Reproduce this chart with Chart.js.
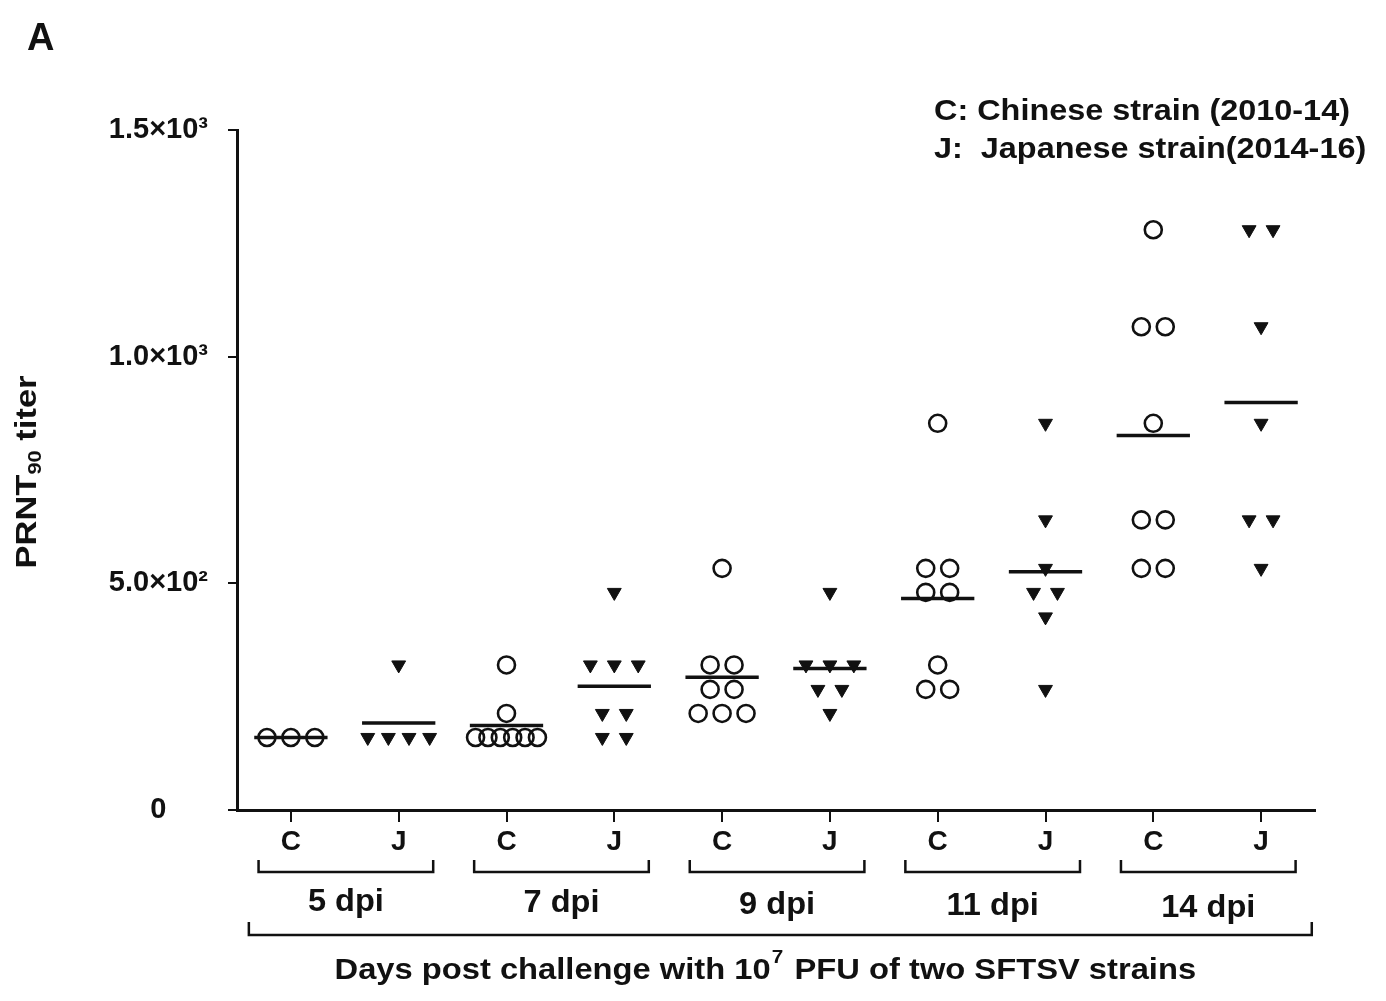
<!DOCTYPE html>
<html>
<head>
<meta charset="utf-8">
<script src="https://cdn.jsdelivr.net/npm/chart.js@4.4.0/dist/chart.umd.min.js"></script>
<style>
  body { margin: 0; background: #fff; }
  #wrap { width: 1386px; height: 1001px; position: relative; }
</style>
</head>
<body>
<div id="wrap"><canvas id="myChart"></canvas></div>
<script>
let groups = ['5 dpi', '7 dpi', '9 dpi', '11 dpi', '14 dpi'];
let strains = ['C', 'J'];
let yTicks = [0, 500, 1000, 1500];
let yTickLabels = ['0', '5.0×10²', '1.0×10³', '1.5×10³'];

// PRNT90 titers per mouse
let chinese5 = [160, 160, 160];
let japanese5 = [320, 160, 160, 160, 160];
let chinese7 = [320, 213, 160, 160, 160, 160, 160, 160];
let japanese7 = [480, 320, 320, 320, 213, 213, 160, 160];
let chinese9 = [533, 320, 320, 266, 266, 213, 213, 213];
let japanese9 = [480, 320, 320, 320, 266, 266, 213];
let chinese11 = [853, 533, 533, 480, 480, 320, 266, 266];
let japanese11 = [853, 640, 533, 480, 480, 426, 266];
let chinese14 = [1280, 1066, 1066, 853, 640, 640, 533, 533];
let japanese14 = [1280, 1280, 1066, 853, 640, 640, 533];

let chineseData = [chinese5, chinese7, chinese9, chinese11, chinese14];
let japaneseData = [japanese5, japanese7, japanese9, japanese11, japanese14];

const FONT = "'Liberation Sans', Arial, sans-serif";
const INK = '#111';

// spread equal values side by side like a column scatter
function spreadPoints(values, center) {
  let counts = {};
  values.forEach(v => counts[v] = (counts[v] || 0) + 1);
  let seen = {};
  return values.map(v => {
    let n = counts[v];
    let k = seen[v] || 0;
    seen[v] = k + 1;
    let step = n > 1 ? Math.min(0.222, 0.574 / (n - 1)) : 0;
    return { x: center + (k - (n - 1) / 2) * step, y: v };
  });
}

function mean(arr) {
  return arr.reduce((a, b) => a + b, 0) / arr.length;
}

let circlePts = [];
let trianglePts = [];
let datasets = [];

for (let g = 0; g < groups.length; g++) {
  circlePts = circlePts.concat(spreadPoints(chineseData[g], g * 2 + 0.5));
  trianglePts = trianglePts.concat(spreadPoints(japaneseData[g], g * 2 + 1.5));
  [chineseData[g], japaneseData[g]].forEach((vals, s) => {
    let c = g * 2 + 0.5 + s;
    let m = mean(vals);
    datasets.push({
      data: [{ x: c - 0.34, y: m }, { x: c + 0.34, y: m }],
      showLine: true,
      borderColor: INK,
      borderWidth: 3.5,
      pointRadius: 0
    });
  });
}

datasets.push({
  label: 'C',
  data: circlePts,
  pointStyle: 'circle',
  pointRadius: 8.5,
  pointBorderWidth: 2.6,
  pointBorderColor: INK,
  pointBackgroundColor: 'rgba(0,0,0,0)'
});
datasets.push({
  label: 'J',
  data: trianglePts,
  pointStyle: 'triangle',
  pointRotation: 180,
  pointRadius: 8,
  pointBorderWidth: 1,
  pointBorderColor: INK,
  pointBackgroundColor: INK
});

// the figure's lettering is a little wide, so stretch it sideways
function wideText(c, text, x, y, sx) {
  c.save();
  c.translate(x, y);
  c.scale(sx, 1);
  c.fillText(text, 0, 0);
  c.restore();
}

const extras = {
  id: 'extras',
  afterDraw(chart) {
    let c = chart.ctx;
    let xs = chart.scales.x;
    let area = chart.chartArea;
    c.save();
    c.fillStyle = INK;
    c.strokeStyle = INK;
    c.textBaseline = 'middle';

    // panel letter
    c.font = 'bold 38px ' + FONT;
    c.textAlign = 'left';
    c.fillText('A', 27, 40);

    // strain key
    c.font = 'bold 30px ' + FONT;
    wideText(c, 'C: Chinese strain (2010-14)', 934, 112, 1.08);
    wideText(c, 'J:  Japanese strain(2014-16)', 934, 150, 1.08);

    // group brackets
    c.lineWidth = 2.5;
    let by = area.bottom + 62;
    for (let g = 0; g < groups.length; g++) {
      let x1 = xs.getPixelForValue(g * 2 + 0.2);
      let x2 = xs.getPixelForValue(g * 2 + 1.82);
      c.beginPath();
      c.moveTo(x1, by - 12); c.lineTo(x1, by); c.lineTo(x2, by); c.lineTo(x2, by - 12);
      c.stroke();
      c.font = 'bold 31px ' + FONT;
      c.textAlign = 'center';
      wideText(c, groups[g], (x1 + x2) / 2, by + 30 + g * 1.5, 1.05);
    }

    // outer bracket
    let oy = area.bottom + 125;
    let ox1 = xs.getPixelForValue(0.11);
    let ox2 = xs.getPixelForValue(9.97);
    c.beginPath();
    c.moveTo(ox1, oy - 13); c.lineTo(ox1, oy); c.lineTo(ox2, oy); c.lineTo(ox2, oy - 13);
    c.stroke();

    // x title with superscript 7, sits a bit left of the bracket centre
    c.textAlign = 'left';
    let sx = 1.09;
    let part1 = 'Days post challenge with 10';
    let part3 = ' PFU of two SFTSV strains';
    c.font = 'bold 30px ' + FONT;
    let w1 = c.measureText(part1).width;
    let w3 = c.measureText(part3).width;
    c.font = 'bold 19px ' + FONT;
    let w2 = c.measureText('7').width + 3;
    let tx = (ox1 + ox2) / 2 - 15 - (w1 + w2 + w3) * sx / 2;
    let ty = area.bottom + 161;
    c.font = 'bold 30px ' + FONT;
    wideText(c, part1, tx, ty, sx);
    c.font = 'bold 19px ' + FONT;
    wideText(c, '7', tx + (w1 + 1) * sx, ty - 13, sx);
    c.font = 'bold 30px ' + FONT;
    wideText(c, part3, tx + (w1 + w2) * sx, ty, sx);

    // y title with subscript 90
    c.translate(28, (area.top + area.bottom) / 2 + 2);
    c.rotate(-Math.PI / 2);
    c.scale(1.15, 1);
    c.font = 'bold 30px ' + FONT;
    let p1 = c.measureText('PRNT').width;
    let p3 = c.measureText(' titer').width;
    c.font = 'bold 19px ' + FONT;
    let p2 = c.measureText('90').width;
    let px = -(p1 + p2 + p3) / 2;
    c.font = 'bold 30px ' + FONT;
    c.fillText('PRNT', px, 0);
    c.font = 'bold 19px ' + FONT;
    c.fillText('90', px + p1, 8);
    c.font = 'bold 30px ' + FONT;
    c.fillText(' titer', px + p1 + p2, 0);
    c.restore();
  }
};

let ctx = document.getElementById('myChart').getContext('2d');
const myChart = new Chart(ctx, {
  type: 'scatter',
  data: { datasets: datasets },
  options: {
    responsive: true,
    maintainAspectRatio: false,
    animation: false,
    layout: { padding: { top: 130, right: 71, left: 0, bottom: 0 } },
    plugins: {
      legend: { display: false },
      tooltip: { enabled: false }
    },
    scales: {
      x: {
        type: 'linear',
        min: 0,
        max: 10,
        afterBuildTicks: s => { s.ticks = [0.5, 1.5, 2.5, 3.5, 4.5, 5.5, 6.5, 7.5, 8.5, 9.5].map(v => ({ value: v })); },
        afterFit: s => { s.height = 191; },
        ticks: {
          callback: v => strains[Math.floor(v) % 2],
          autoSkip: false,
          maxRotation: 0,
          padding: 3,
          color: INK,
          font: { family: FONT, size: 28, weight: 'bold' }
        },
        grid: { drawOnChartArea: false, tickLength: 12, color: INK, lineWidth: 2 },
        border: { color: INK, width: 3 }
      },
      y: {
        min: 0,
        max: 1500,
        afterBuildTicks: s => { s.ticks = yTicks.map(v => ({ value: v })); },
        afterFit: s => { s.width = 237; },
        ticks: {
          callback: v => yTickLabels[yTicks.indexOf(v)],
          crossAlign: 'center',
          padding: 20,
          color: INK,
          font: { family: FONT, size: 29, weight: 'bold' }
        },
        grid: { drawOnChartArea: false, tickLength: 9, color: INK, lineWidth: 2 },
        border: { color: INK, width: 3 }
      }
    }
  },
  plugins: [extras]
});
</script>
</body>
</html>
